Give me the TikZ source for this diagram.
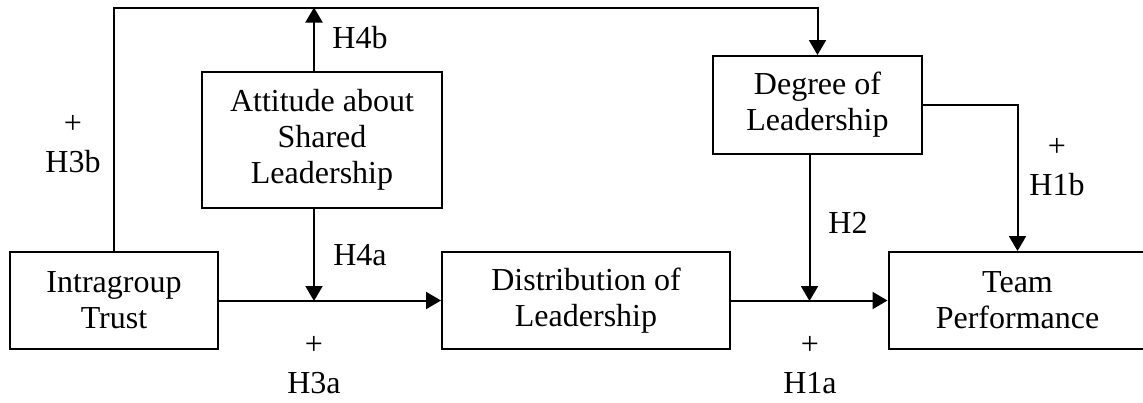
\documentclass[tikz,border=0pt]{standalone}
\usepackage{fontspec}
\setmainfont{Liberation Serif}
\usetikzlibrary{arrows.meta}
\begin{document}
\begin{tikzpicture}[x=0.5pt,y=-0.5pt,
  every node/.style={font=\fontsize{16pt}{18pt}\selectfont},
  boxn/.style={draw,line width=1pt,inner sep=0pt,align=center,anchor=center},
  lbl/.style={inner sep=0pt,anchor=center},
  arr/.style={line width=1pt,-{Triangle[length=7.5pt,width=8.5pt]}},
  ln/.style={line width=1pt}]
\useasboundingbox (0,0) rectangle (1143,402);
\begin{scope}
\clip (0,0) rectangle (1143,402);
\node[boxn,minimum width=104pt,minimum height=48.5pt] (trust) at (114,300.5) {Intragroup\\Trust};
\node[boxn,minimum width=120pt,minimum height=68pt] (att) at (322,140) {Attitude about\\Shared\\Leadership};
\node[boxn,minimum width=144pt,minimum height=48.5pt] (dist) at (586,300.5) {Distribution of\\Leadership};
\node[boxn,minimum width=104.5pt,minimum height=49pt] (deg) at (817.5,105) {Degree of\\Leadership};
\node[boxn,minimum width=129pt,minimum height=48.5pt] (team) at (1017.5,300.5) {Team\\Performance};

\coordinate (top) at (0,7.5);
\coordinate (ax) at (314,0);
\coordinate (hx) at (809.5,0);
\coordinate (mid) at (0,301);

\draw[arr] (trust.north) -- (trust.north |- top) -- (deg.north |- top) -- (deg.north);
\draw[arr] (att.north -| ax) -- (ax |- top);
\draw[arr] (att.south -| ax) -- (ax |- mid);
\draw[arr] (trust.east) -- (dist.west);
\draw[arr] (dist.east) -- (team.west);
\draw[arr] (deg.south -| hx) -- (hx |- mid);
\draw[arr] (deg.east) -| (team.north);

\node[lbl] (h4b) at (360,38) {H4b};
\node[lbl] (p3b) at (73,124) {+};
\node[lbl] (h3b) at (73,162) {H3b};
\node[lbl] (h4a) at (360,255) {H4a};
\node[lbl] (p3a) at (314,345) {+};
\node[lbl] (h3a) at (314,383) {H3a};
\node[lbl] (h2) at (848,223) {H2};
\node[lbl] (p1b) at (1057,147) {+};
\node[lbl] (h1b) at (1057,185) {H1b};
\node[lbl] (p1a) at (810,345) {+};
\node[lbl] (h1a) at (810,383) {H1a};
\end{scope}
\end{tikzpicture}
\end{document}
